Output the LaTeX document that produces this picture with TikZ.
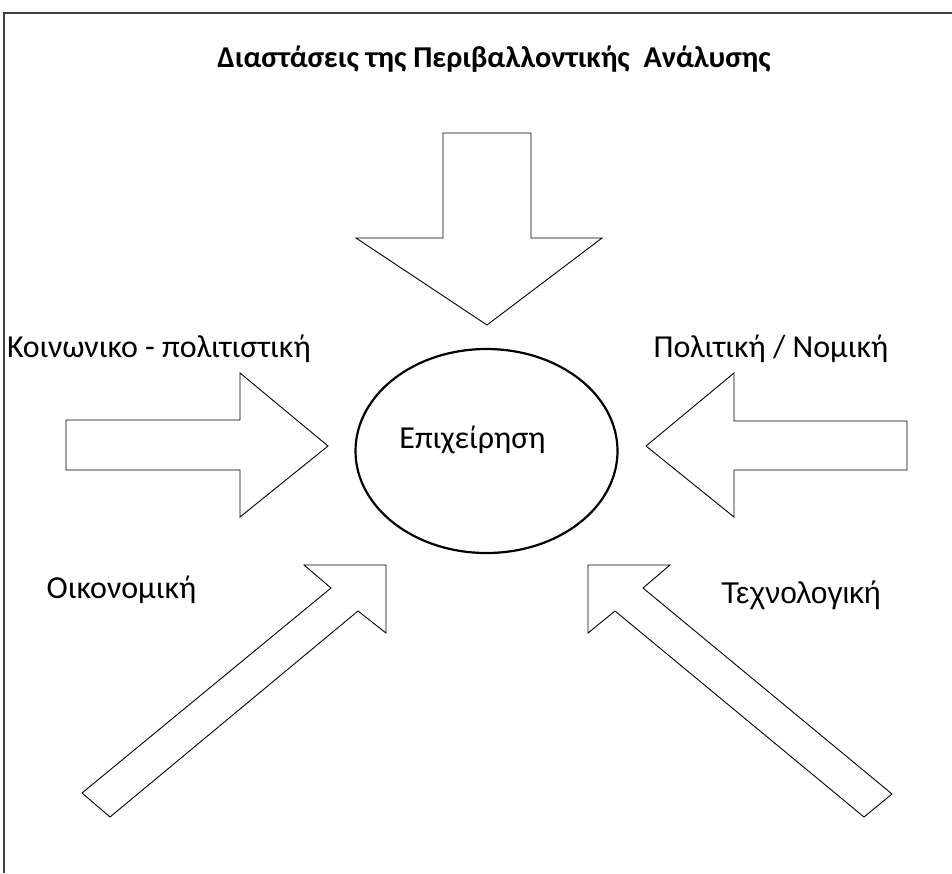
\documentclass[tikz,border=0pt]{standalone}
\usepackage{fontspec}
\setmainfont{Carlito}
\newfontfamily\arialfont{Liberation Sans}
\begin{document}
\begin{tikzpicture}[x=1pt,y=-1pt,
  blockarrow/.style={draw=black, line width=0.9pt, line join=miter, fill=white},
  label/.style={anchor=base, inner sep=0pt, font=\fontsize{32}{37}\selectfont},
  frameline/.style={draw=black!75, line width=1.4pt}]
  \useasboundingbox (0,0) rectangle (952,873);
  % page frame: top and left edges only
  \draw[frameline] (4,873) -- (4,13) -- (952,13);

  % title
  \node[anchor=base, inner sep=0pt, font=\fontsize{30.3}{35}\selectfont\bfseries] (title) at (494,67)
    {Διαστάσεις της Περιβαλλοντικής\ \ Ανάλυσης};

  % central company ellipse
  \draw[line width=2.2pt] (486.5,451) ellipse [x radius=131, y radius=102];
  \node[label] (firm) at (472.5,448) {Επιχείρηση};

  % arrow from above
  \draw[blockarrow] (443,133) -- (531,133) -- (531,238) -- (602,238) -- (487,325)
    -- (356,238) -- (443,238) -- cycle;

  % arrow from the left
  \draw[blockarrow] (66,420) -- (240,420) -- (240,373) -- (328,446) -- (240,517)
    -- (240,470) -- (66,470) -- cycle;

  % arrow from the right
  \draw[blockarrow] (907,421) -- (734,421) -- (734,373) -- (646,446) -- (734,517)
    -- (734,470) -- (907,470) -- cycle;

  % diagonal arrow from lower left
  \draw[blockarrow] (82,793) -- (331,588) -- (304,565) -- (386,565) -- (386,633)
    -- (358,611) -- (110,817) -- cycle;

  % diagonal arrow from lower right
  \draw[blockarrow] (892,794) -- (643,588) -- (670,565) -- (588,565) -- (588,633)
    -- (615,611) -- (864,817) -- cycle;

  % labels of the environment dimensions
  \node[label] (social) at (159,357) {Κοινωνικο - πολιτιστική};
  \node[label] (legal) at (771,357) {Πολιτική / Νομική};
  \node[label] (econ) at (121.5,598) {Οικονομική};
  \node[label, font=\arialfont\fontsize{30}{35}\selectfont] (tech) at (801,603) {Τεχνολογική};
\end{tikzpicture}
\end{document}
